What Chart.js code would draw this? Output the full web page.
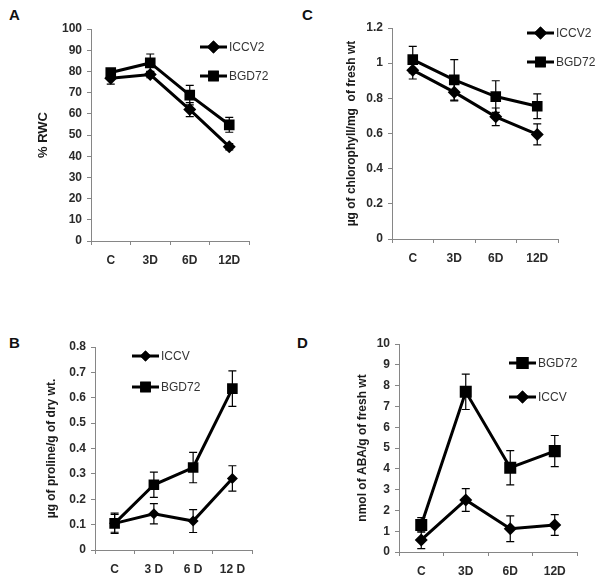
<!DOCTYPE html>
<html>
<head>
<meta charset="utf-8">
<script src="https://cdn.jsdelivr.net/npm/chart.js@4.4.1/dist/chart.umd.min.js"></script>
<style>
  html, body { margin: 0; padding: 0; background: #fff; }
  body { width: 600px; height: 584px; position: relative; overflow: hidden; font-family: "Liberation Sans", Arial, sans-serif; }
  .panel { position: absolute; }
  .letter { position: absolute; font: bold 15px "Liberation Sans", Arial, sans-serif; color: #111; }
</style>
</head>
<body>
<div class="letter" style="left:9px;top:6px;">A</div>
<div class="letter" style="left:302px;top:6px;">C</div>
<div class="letter" style="left:9px;top:334px;">B</div>
<div class="letter" style="left:297px;top:334px;">D</div>
<canvas id="cA" class="panel" style="left:0px;top:0px;" width="300" height="280"></canvas>
<canvas id="cC" class="panel" style="left:300px;top:0px;" width="300" height="280"></canvas>
<canvas id="cB" class="panel" style="left:0px;top:290px;" width="300" height="294"></canvas>
<canvas id="cD" class="panel" style="left:300px;top:290px;" width="300" height="294"></canvas>
<script>
// ---------- DATA ----------
const daysA = ['C', '3D', '6D', '12D'];
const rwcICCV2 = [76.8, 78.5, 62, 44.5];
const rwcICCV2Err = [2.8, 1.5, 3.3, 1.5];
const rwcBGD72 = [79.5, 84, 68.8, 54.8];
const rwcBGD72Err = [1.5, 4.2, 4.6, 3.5];

const daysC = ['C', '3D', '6D', '12D'];
const chlICCV2 = [0.96, 0.835, 0.695, 0.595];
const chlICCV2Err = [0.05, 0.05, 0.05, 0.06];
const chlBGD72 = [1.02, 0.905, 0.81, 0.755];
const chlBGD72Err = [0.075, 0.115, 0.09, 0.07];

const daysB = ['C', '3 D', '6 D', '12 D'];
const proICCV = [0.105, 0.143, 0.114, 0.282];
const proICCVErr = [0.04, 0.04, 0.045, 0.05];
const proBGD72 = [0.105, 0.257, 0.325, 0.636];
const proBGD72Err = [0.035, 0.05, 0.06, 0.07];

const daysD = ['C', '3D', '6D', '12D'];
const abaBGD72 = [1.3, 7.7, 4.05, 4.85];
const abaBGD72Err = [0.35, 0.85, 0.82, 0.75];
const abaICCV = [0.58, 2.5, 1.12, 1.3];
const abaICCVErr = [0.42, 0.55, 0.62, 0.5];

// ---------- PLUGINS ----------
const errorBars = {
  id: 'errorBars',
  beforeDatasetsDraw(chart) {
    const ctx = chart.ctx;
    const y = chart.scales.y;
    ctx.save();
    ctx.strokeStyle = '#000';
    ctx.lineWidth = 1.2;
    chart.data.datasets.forEach((ds, i) => {
      const meta = chart.getDatasetMeta(i);
      meta.data.forEach((pt, j) => {
        const e = ds.err[j];
        const yt = y.getPixelForValue(ds.data[j] + e);
        const yb = y.getPixelForValue(ds.data[j] - e);
        const x = pt.x;
        ctx.beginPath();
        ctx.moveTo(x, yt); ctx.lineTo(x, yb);
        ctx.moveTo(x - 4, yt); ctx.lineTo(x + 4, yt);
        ctx.moveTo(x - 4, yb); ctx.lineTo(x + 4, yb);
        ctx.stroke();
      });
    });
    ctx.restore();
  }
};

const customLegend = {
  id: 'customLegend',
  afterDraw(chart, args, opts) {
    const ctx = chart.ctx;
    ctx.save();
    chart.data.datasets.forEach((ds, i) => {
      const pos = opts.items[i];
      const x0 = pos.x, y0 = pos.y, len = 27;
      ctx.strokeStyle = '#000';
      ctx.lineWidth = 3;
      ctx.beginPath(); ctx.moveTo(x0, y0); ctx.lineTo(x0 + len, y0); ctx.stroke();
      ctx.fillStyle = '#000';
      Chart.helpers.drawPoint(ctx, { pointStyle: ds.pointStyle, radius: ds.pointRadius * (opts.scale || 1), borderWidth: 0 }, x0 + len / 2, y0);
      ctx.fill();
      ctx.fillStyle = '#333';
      ctx.font = '12px "Liberation Sans", Arial, sans-serif';
      ctx.textBaseline = 'middle';
      ctx.textAlign = 'left';
      ctx.fillText(ds.label, x0 + len + 2, y0 + 1);
    });
    ctx.restore();
  }
};

function ds(label, data, err, style, r) {
  return {
    label, data, err,
    borderColor: '#000', backgroundColor: '#000',
    borderWidth: 3,
    pointStyle: style, pointRadius: r, pointHoverRadius: r,
    pointBackgroundColor: '#000', pointBorderColor: '#000', pointBorderWidth: 0,
    tension: 0, fill: false
  };
}

function makeChart(id, cfg) {
  const c = document.getElementById(id);
  const W = c.width, H = c.height;
  const tickFont = { family: '"Liberation Sans", Arial, sans-serif', size: 12, weight: 'bold' };
  const titleSize = cfg.titleSize || 12;
  const lh = titleSize * 1.2;
  return new Chart(c, {
    type: 'line',
    data: { labels: cfg.labels, datasets: cfg.datasets },
    options: {
      responsive: false,
      animation: false,
      events: [],
      layout: { padding: { top: cfg.area.top, right: W - cfg.area.right, bottom: 0, left: 0 } },
      plugins: {
        legend: { display: false },
        tooltip: { enabled: false },
        customLegend: { items: cfg.legend, scale: cfg.legendScale || 1 }
      },
      scales: {
        x: {
          type: 'category',
          offset: true,
          grid: { offset: true, drawOnChartArea: false, drawTicks: true, tickLength: 4, color: '#868686' },
          border: { display: true, color: '#868686', width: 1 },
          ticks: { font: tickFont, color: '#2a2a2a', padding: 8, maxRotation: 0 },
          afterFit(s) { s.height = H - cfg.area.bottom; }
        },
        y: {
          min: 0, max: cfg.max,
          grid: { drawOnChartArea: false, drawTicks: true, tickLength: 4, color: '#868686' },
          border: { display: true, color: '#868686', width: 1 },
          ticks: {
            stepSize: cfg.step, font: tickFont, color: '#2a2a2a', padding: 5,
            callback: (v) => String(Math.round(v * 100) / 100)
          },
          title: {
            display: true, text: cfg.title, color: '#1a1a1a',
            font: { family: '"Liberation Sans", Arial, sans-serif', size: titleSize, weight: 'bold' },
            padding: { top: cfg.titleX - lh / 2, bottom: 0 }
          },
          afterFit(s) { s.width = cfg.area.left; }
        }
      }
    },
    plugins: [errorBars, customLegend]
  });
}

makeChart('cA', {
  labels: daysA,
  datasets: [ds('ICCV2', rwcICCV2, rwcICCV2Err, 'rectRot', 6.5), ds('BGD72', rwcBGD72, rwcBGD72Err, 'rect', 7.5)],
  max: 100, step: 10, title: '% RWC', titleSize: 13, titleX: 43,
  area: { left: 91, top: 29, right: 249, bottom: 241 },
  legend: [{ x: 200, y: 47 }, { x: 200, y: 76 }]
});

makeChart('cC', {
  labels: daysC,
  datasets: [ds('ICCV2', chlICCV2, chlICCV2Err, 'rectRot', 6.5), ds('BGD72', chlBGD72, chlBGD72Err, 'rect', 7.5)],
  max: 1.2, step: 0.2, title: 'µg of chlorophyll/mg  of fresh wt', titleX: 52,
  area: { left: 92, top: 28, right: 258, bottom: 239 },
  legend: [{ x: 227, y: 33 }, { x: 227, y: 62 }]
});

makeChart('cB', {
  labels: daysB,
  datasets: [ds('ICCV', proICCV, proICCVErr, 'rectRot', 5.5), ds('BGD72', proBGD72, proBGD72Err, 'rect', 7.5)],
  max: 0.8, step: 0.1, title: 'µg of proline/g of dry wt.', titleX: 52,
  area: { left: 95, top: 57, right: 252, bottom: 260 },
  legend: [{ x: 132, y: 66 }, { x: 132, y: 97 }]
});

makeChart('cD', {
  labels: daysD,
  datasets: [ds('BGD72', abaBGD72, abaBGD72Err, 'rect', 8.5), ds('ICCV', abaICCV, abaICCVErr, 'rectRot', 6.5)],
  max: 10, step: 1, title: 'nmol of ABA/g of fresh wt', titleX: 63,
  area: { left: 99, top: 54, right: 277, bottom: 262 },
  legend: [{ x: 209, y: 73 }, { x: 209, y: 107 }]
});
</script>
</body>
</html>
